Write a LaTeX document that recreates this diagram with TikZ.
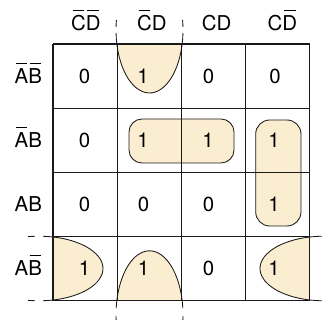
\documentclass[tikz,border=0pt]{standalone}
\usepackage{fontspec}
\setmainfont{TeX Gyre Heros}
\definecolor{kfill}{RGB}{250,237,208}
\newcommand{\ob}[1]{\setbox0\hbox{#1}\rlap{\hbox to \wd0{\hss\rule[19.5bp]{0.8\wd0}{0.9bp}\hss}}\box0}
\newcommand{\earc}[5]{\draw[loopline] (#1) ++(#2:#4 and #5) arc[start angle=#2, end angle=#3, x radius=#4, y radius=#5];}
\begin{document}
\begin{tikzpicture}[x=1bp,y=1bp,
  txt/.style={font=\fontsize{20.5}{24}\selectfont, anchor=base, inner sep=0pt},
  gridline/.style={line width=1.1bp, black!90},
  loopline/.style={line width=0.85bp, black!90}]
\useasboundingbox (0,0) rectangle (322,320);
\coordinate (et) at (149.5,290);
\coordinate (eb) at (149.5,5.2);
\coordinate (el) at (39,51.5);
\coordinate (er) at (324,51.5);
% fills
\begin{scope}
\clip (53,19.2) rectangle (309.8,276);
\fill[kfill] (et) ellipse[x radius=33.5, y radius=63];
\fill[kfill] (eb) ellipse[x radius=33.5, y radius=64];
\fill[kfill] (el) ellipse[x radius=64, y radius=32.3];
\fill[kfill] (er) ellipse[x radius=64, y radius=32.3];
\end{scope}
\fill[kfill, rounded corners=13bp] (129,157) rectangle (234,201);
\fill[kfill, rounded corners=14bp] (255.7,94) rectangle (301,200);
% grid
\foreach \i in {0,...,4} {
  \draw[gridline] ({53+64.2*\i},19.2) -- ({53+64.2*\i},276);
  \draw[gridline] (53,{19.2+64.2*\i}) -- (309.8,{19.2+64.2*\i});
}
% loop outlines
\draw[loopline, rounded corners=13bp] (129,157) rectangle (234,201);
\draw[loopline, rounded corners=14bp] (255.7,94) rectangle (301,200);
\earc{et}{-12.84}{-167.16}{33.5}{63}
\earc{et}{-12.84}{-2.73}{33.5}{63}
\earc{et}{2.73}{9.13}{33.5}{63}
\earc{et}{-167.16}{-177.27}{33.5}{63}
\earc{et}{177.27}{170.87}{33.5}{63}
\earc{eb}{12.64}{167.36}{33.5}{64}
\earc{eb}{12.64}{6.1}{33.5}{64}
\earc{eb}{-1.07}{-8}{33.5}{64}
\earc{eb}{167.36}{173.9}{33.5}{64}
\earc{eb}{181.07}{188}{33.5}{64}
\earc{el}{77.36}{-77.36}{64}{32.3}
\earc{el}{77.36}{86.4}{64}{32.3}
\earc{el}{93.6}{99.9}{64}{32.3}
\earc{el}{-77.36}{-86.4}{64}{32.3}
\earc{el}{-93.6}{-99.9}{64}{32.3}
\earc{er}{102.8}{257.2}{64}{32.3}
\earc{er}{102.8}{85}{64}{32.3}
\earc{er}{257.2}{275}{64}{32.3}
% headers
\node[txt] (h1) at (85.8,289.5) {\ob{C}\ob{D}};
\node[txt] (h2) at (151.8,289.5) {\ob{C}D};
\node[txt] (h3) at (216.7,289.5) {CD};
\node[txt] (h4) at (282.3,289.5) {C\ob{D}};
% row labels
\node[txt] (r1) at (28.3,236.9) {\ob{A}\ob{B}};
\node[txt] (r2) at (28.3,172.7) {\ob{A}B};
\node[txt] (r3) at (28.3,108.5) {AB};
\node[txt] (r4) at (28.3,44.3) {A\ob{B}};
% cells
\node[txt] (d11) at (84.5,236.9) {0};
\node[txt] (d12) at (143,236.9) {1};
\node[txt] (d13) at (208.5,236.9) {0};
\node[txt] (d14) at (275,236.9) {0};
\node[txt] (d21) at (84.5,172.7) {0};
\node[txt] (d22) at (143,172.7) {1};
\node[txt] (d23) at (208,172.7) {1};
\node[txt] (d24) at (274,172.7) {1};
\node[txt] (d31) at (84.5,108.5) {0};
\node[txt] (d32) at (143.5,108.5) {0};
\node[txt] (d33) at (208.5,108.5) {0};
\node[txt] (d34) at (274,108.5) {1};
\node[txt] (d41) at (84.5,44.3) {1};
\node[txt] (d42) at (143.5,44.3) {1};
\node[txt] (d43) at (208.5,44.3) {0};
\node[txt] (d44) at (274,44.3) {1};
\end{tikzpicture}
\end{document}
